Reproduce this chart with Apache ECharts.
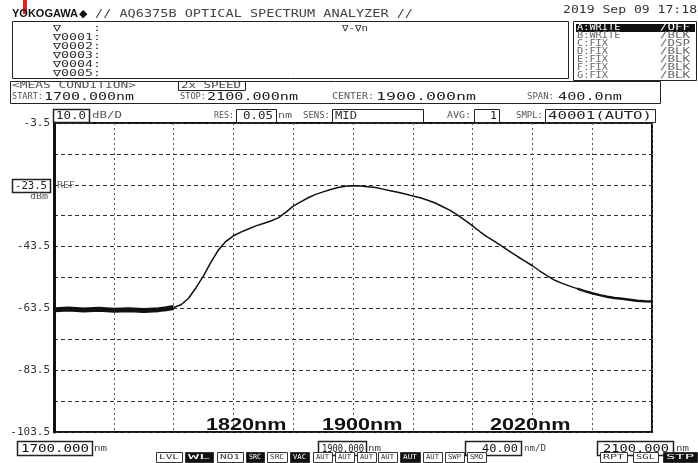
<!DOCTYPE html>
<html><head><meta charset="utf-8">
<script src="https://cdn.jsdelivr.net/npm/echarts@6/dist/echarts.min.js"></script>
<style>html,body{margin:0;padding:0;background:#fff}#c{width:698px;height:463px}</style>
</head><body><div id="c"></div>
<script>
// ---- data ----
const wavelengthNm = [1700,1710,1720,1730,1740,1750,1760,1770,1775,1780,
  1785,1790,1795,1800,1805,1810,1815,1820,1825,1830,1835,1840,1845,1850,1855,1860,
  1865,1870,1875,1880,1885,1890,1895,1900,1905,1910,1915,1920,1925,1930,1935,1940,
  1945,1950,1955,1960,1965,1970,1975,1980,1985,1990,1995,2000,2005,2010,2015,2020,
  2025,2030,2035,2040,2045,2050,2055,2060,2065,2070,2075,2080,2085,2090,2095,2100];
const powerDbm = [-63.9,-63.7,-64.0,-63.8,-64.1,-63.9,-64.2,-63.9,-63.6,-63.2,
  -62.3,-60.2,-56.8,-53.0,-48.5,-44.6,-41.8,-40.0,-38.8,-37.8,-36.8,-36.0,-35.2,-34.2,-32.4,-30.4,
  -29.0,-27.7,-26.6,-25.8,-25.0,-24.4,-24.0,-23.8,-23.9,-24.1,-24.4,-24.9,-25.4,-25.9,-26.5,-27.1,
  -27.7,-28.5,-29.4,-30.6,-31.8,-33.3,-35.0,-36.8,-38.7,-40.4,-41.9,-43.5,-45.1,-46.7,-48.2,-49.7,
  -51.4,-53.0,-54.4,-55.4,-56.3,-57.1,-57.9,-58.6,-59.2,-59.7,-60.1,-60.4,-60.7,-61.0,-61.2,-61.3];
const yTickLabels = ['-3.5','-43.5','-63.5','-83.5','-103.5'];
const refLevel = '-23.5';
const markerLabels = ['1820nm','1900nm','2020nm'];
const traceLines = ['A:WRITE','B:WRITE','C:FIX','D:FIX','E:FIX','F:FIX','G:FIX'];
const traceModes = ['/OFF','/BLK','/DSP','/BLK','/BLK','/BLK','/BLK'];
const markerRows = ['\u2207    :','\u22070001:','\u22070002:','\u22070003:','\u22070004:','\u22070005:'];
const buttons = ['LVL','WL','NO1','SRC','SRC','VAC','AUT','AUT','AUT','AUT','AUT','AUT','SWP','SMO','RPT','SGL','STP'];

const pts = wavelengthNm.map((w,i)=>[w,powerDbm[i]]);
const iA = wavelengthNm.indexOf(1780), iB = wavelengthNm.indexOf(2050);

// ---- helpers for the instrument screen decorations ----
const MONO = '"DejaVu Sans Mono"';
function T(s,x,y,o){o=o||{};
  const f=o.f||10, fam=o.fam||MONO, wt=o.wt||'normal';
  let sx=1; if(o.w){ sx=o.w/(s.length*0.602*f); }
  return {type:'text',x:x,y:y,scaleX:sx,z:20,silent:true,
    style:{text:s,fill:o.c||'#222',font:wt+' '+f+'px '+fam,
      textAlign:o.al||'left',align:o.al||'left',textVerticalAlign:'middle',verticalAlign:'middle'}};
}
function R(x,y,w,h,o){o=o||{};
  return {type:'rect',z:o.z||15,silent:true,shape:{x:x,y:y,width:w,height:h},
    style:{fill:o.fill||'none',stroke:o.stroke===undefined?'#222':o.stroke,lineWidth:o.lw||1}};
}

const G=[];
// header
G.push(R(23,0,4,14,{fill:'#e3231b',stroke:null}));
G.push(T('YOKOGAWA',12,14,{f:11,fam:'"Liberation Sans"',wt:'bold',c:'#111'}));
G.push(T('\u25C6',79,14,{f:11,fam:'"DejaVu Sans"',c:'#111'}));
G.push(T('// AQ6375B OPTICAL SPECTRUM ANALYZER //',95,14,{f:10,w:318,c:'#444'}));
G.push(T('2019 Sep 09 17:18',563,10,{f:11,w:134,c:'#333'}));
// marker box
G.push(R(12.5,21.5,556,57));
markerRows.forEach((s,k)=>G.push(T(s,53,29+9*k,{f:9,w:48,c:'#333'})));
G.push(T('\u2207-\u2207n',342,29,{f:9,w:26,c:'#333'}));
// trace panel
G.push(R(573.5,21.5,123,59));
G.push(R(576,24,119,8,{fill:'#111',stroke:null}));
traceLines.forEach((s,k)=>{
  const c = k===0?'#fff':'#666';
  G.push(T(s,577,28+8*k,{f:8,w:s.length*6.2,c:c}));
  G.push(T(traceModes[k],660,28+8*k,{f:8,w:30,c:c}));
});
// meas condition box
G.push(R(10.5,81.5,650,22));
G.push(T('<MEAS CONDITION>',12,86,{f:8,w:124,c:'#555'}));
G.push(R(178.5,81.5,67,9));
G.push(T('2x SPEED',181,86,{f:8,w:60,c:'#444'}));
G.push(T('START:',12,97,{f:8,w:31,c:'#555'}));
G.push(T('1700.000nm',44,97,{f:11,w:90,c:'#222'}));
G.push(T('STOP:',180,97,{f:8,w:26,c:'#555'}));
G.push(T('2100.000nm',207,97,{f:11,w:91,c:'#222'}));
G.push(T('CENTER:',332,97,{f:8,w:42,c:'#555'}));
G.push(T('1900.000nm',376,97,{f:11,w:100,c:'#222'}));
G.push(T('SPAN:',527,97,{f:8,w:27,c:'#555'}));
G.push(T('400.0nm',558,97,{f:11,w:64,c:'#222'}));
// settings row
G.push(R(53.5,109.5,36,13,{lw:1.5}));
G.push(T('10.0',56,116,{f:11,w:30,c:'#222'}));
G.push(T('dB/D',92,116,{f:8,w:30,c:'#555'}));
G.push(T('RES:',214,116,{f:8,w:20,c:'#555'}));
G.push(R(236.5,109.5,40,13));
G.push(T('0.05',243,116,{f:11,w:30,c:'#222'}));
G.push(T('nm',278,116,{f:8,w:14,c:'#555'}));
G.push(T('SENS:',303,116,{f:8,w:27,c:'#555'}));
G.push(R(332.5,109.5,91,13));
G.push(T('MID',335,116,{f:11,w:22,c:'#333'}));
G.push(T('AVG:',447,116,{f:8,w:24,c:'#555'}));
G.push(R(474.5,109.5,25,13));
G.push(T('1',490,116,{f:11,w:7,c:'#222'}));
G.push(T('SMPL:',516,116,{f:8,w:27,c:'#555'}));
G.push(R(545.5,109.5,110,13));
G.push(T('40001(AUTO)',548,116,{f:11,w:104,c:'#222'}));
// reference level box
G.push(R(12.5,179.5,38,13,{lw:1.5}));
G.push(T(refLevel,15,186,{f:10,w:32,c:'#222'}));
G.push(T('dBm',30,197,{f:8,w:18,c:'#555'}));
G.push(T('REF',57,186,{f:8,w:18,c:'#666'}));
// marker annotations
const mkX=[206,322,490];
markerLabels.forEach((s,k)=>G.push(T(s,mkX[k],425,{f:17,fam:'"Liberation Sans"',wt:'bold',w:78,c:'#111'})));
// bottom value boxes
G.push(R(17.5,441.5,75,14,{lw:1.5}));
G.push(T('1700.000',21,449,{f:11,w:68,c:'#111'}));
G.push(T('nm',94,449,{f:8,w:13,c:'#444'}));
G.push(R(318.5,441.5,48,14,{lw:1.5}));
G.push(T('1900.000',322,449,{f:10,w:42,c:'#111'}));
G.push(T('nm',368,449,{f:8,w:13,c:'#444'}));
G.push(R(465.5,441.5,56,14,{lw:1.5}));
G.push(T('40.00',482,449,{f:10,w:36,c:'#111'}));
G.push(T('nm/D',524,449,{f:8,w:22,c:'#444'}));
G.push(R(597.5,441.5,76,14,{lw:1.5}));
G.push(T('2100.000',603,449,{f:11,w:66,c:'#111'}));
G.push(T('nm',676,449,{f:8,w:13,c:'#444'}));
// button strip
const bx=[[156,182],[185,213],[217,243],[246,264],[267,287],[290,309],[313,332],[335,354],[357,376],[378,397],[400,420],[423,442],[445,464],[467,486],[600,627],[633,658],[663,697]];
const inv=[1,3,5,10,16];
buttons.forEach((s,k)=>{
  const [a,b]=bx[k]; const on=inv.indexOf(k)>=0;
  G.push(R(a+0.5,452.5,b-a,10,{fill:on?'#111':'#fff',stroke:'#333'}));
  G.push(T(s,a+3,457,{f:7,w:(b-a)-6,c:on?'#fff':'#333'}));
});

const chart = echarts.init(document.getElementById('c'),null,{renderer:'canvas'});
chart.setOption({
  animation:false,
  backgroundColor:'#fff',
  grid:{left:54,top:123,width:598,height:309,show:true,borderColor:'#111',borderWidth:2,backgroundColor:'#fff'},
  xAxis:{type:'value',min:1700,max:2100,interval:40,
    axisLine:{show:false},axisTick:{show:false},axisLabel:{show:false},
    splitLine:{show:true,lineStyle:{color:'#555',type:[2,3],width:1}}},
  yAxis:{type:'value',min:-103.5,max:-3.5,interval:10,
    axisLine:{show:true,onZero:false,lineStyle:{color:'#111',width:3}},axisTick:{show:false},
    axisLabel:{margin:4,color:'#333',fontFamily:'DejaVu Sans Mono',fontSize:11,
      formatter:v=>{const s=(Math.round(v*10)/10).toFixed(1);return yTickLabels.indexOf(s)>=0?s:'';}},
    splitLine:{show:true,lineStyle:{color:'#333',type:[4,3],width:1}}},
  series:[
    {type:'line',data:pts.slice(0,iA+1),symbol:'none',lineStyle:{color:'#111',width:5},z:5},
    {type:'line',data:pts.slice(iA,iB+1),symbol:'none',lineStyle:{color:'#111',width:1.5},z:5},
    {type:'line',data:pts.slice(iB),symbol:'none',lineStyle:{color:'#111',width:2.5},z:5}
  ],
  graphic:G
});
</script></body></html>
